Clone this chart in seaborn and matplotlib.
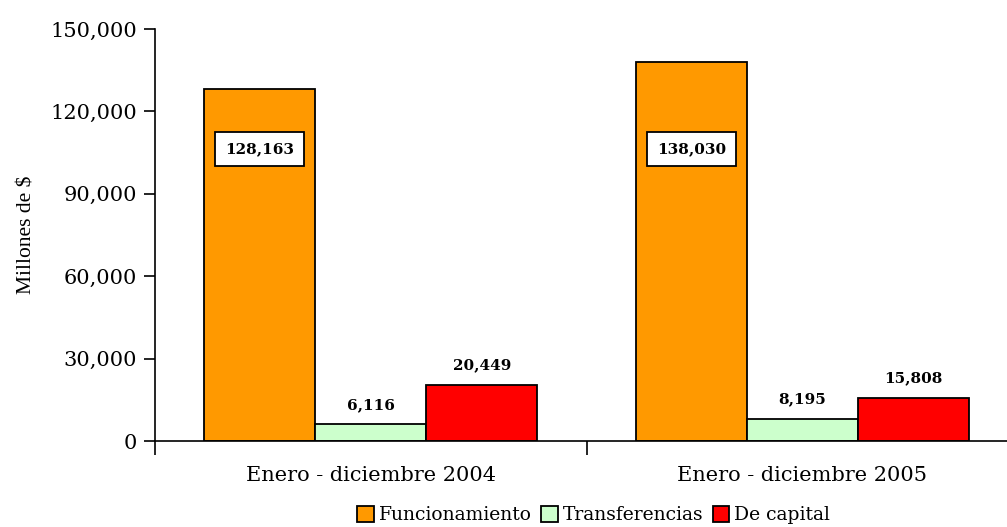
import pandas as pd
import numpy as np
import matplotlib
matplotlib.use('Agg')
import matplotlib.pyplot as plt
import seaborn as sns
from matplotlib.ticker import FuncFormatter, FixedLocator

# Data
periods = ['Enero - diciembre 2004', 'Enero - diciembre 2005']
series = ['Funcionamiento', 'Transferencias', 'De capital']
funcionamiento = [128163, 138030]
transferencias = [6116, 8195]
de_capital = [20449, 15808]
colors = ['#FF9900', '#CCFFCC', '#FF0000']

df = pd.DataFrame({
    'periodo': periods * 3,
    'serie': np.repeat(series, len(periods)),
    'valor': funcionamiento + transferencias + de_capital,
})

sns.set_style('white')
plt.rcParams['font.family'] = ['DejaVu Serif']
plt.rcParams['text.color'] = 'black'
plt.rcParams['xtick.color'] = 'black'
plt.rcParams['ytick.color'] = 'black'
plt.rcParams['axes.labelcolor'] = 'black'

fig = plt.figure(figsize=(10.07, 5.27), dpi=100)
ax = fig.add_axes([0.154, 0.163, 0.857, 0.782])

sns.barplot(data=df, x='periodo', y='valor', hue='serie', hue_order=series,
            palette=colors, saturation=1, width=0.772, gap=0, edgecolor='black',
            linewidth=1.3, ax=ax, legend=True)

ax.set_ylim(0, 150000)
ax.set_xlim(-0.5, 1.5)
ax.set_yticks(np.arange(0, 150001, 30000))
ax.yaxis.set_major_formatter(FuncFormatter(lambda v, p: f'{int(v):,}'))
ax.tick_params(axis='y', direction='out', length=8, width=1.2, labelsize=15, pad=5, left=True)
ax.tick_params(axis='x', which='major', length=0, labelsize=15, pad=18)
ax.xaxis.set_minor_locator(FixedLocator([-0.5, 0.5, 1.5]))
ax.tick_params(axis='x', which='minor', direction='out', length=10, width=1.2, bottom=True)
ax.set_xlabel('')
ax.set_ylabel('Millones de $', family='Liberation Serif', fontsize=15.5, labelpad=10)

for s in ['top', 'right']:
    ax.spines[s].set_visible(False)
for s in ['left', 'bottom']:
    ax.spines[s].set_color('black')
    ax.spines[s].set_linewidth(1.2)

# value labels
for cont, name in zip(ax.containers, series):
    for bar in cont:
        x = bar.get_x() + bar.get_width() / 2
        h = bar.get_height()
        txt = f'{int(round(h)):,}'
        if name == 'Funcionamiento':
            ax.text(x, 106300, txt, ha='center', va='center', fontsize=11, fontweight='bold',
                    bbox=dict(boxstyle='square,pad=0.65', facecolor='white', edgecolor='black', linewidth=1.3))
        else:
            ax.text(x, h + 4500, txt, ha='center', va='bottom', fontsize=11, fontweight='bold')

leg = ax.legend(loc='center', bbox_to_anchor=(0.508, -0.18), ncol=3, frameon=False,
                fontsize=13.5, handlelength=0.9, handleheight=0.9, handletextpad=0.25,
                columnspacing=0.5, borderaxespad=0)
for h in leg.legend_handles:
    h.set_edgecolor('black')
    h.set_linewidth(1.3)

fig.savefig('out.png', dpi=100)
